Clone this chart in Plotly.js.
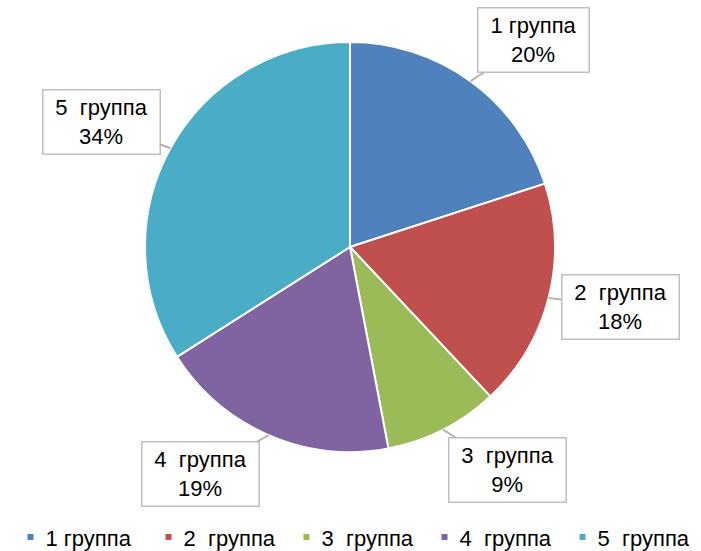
<!DOCTYPE html>
<html>
<head>
<meta charset="utf-8">
<script src="https://cdn.plot.ly/plotly-3.0.1.min.js"></script>
<style>
  html, body { margin: 0; padding: 0; background: #ffffff; }
  #chart { width: 701px; height: 551px; }
</style>
</head>
<body>
<div id="chart"></div>
<script>
// groups and their shares, percent
var groups = ["1 группа", "2\u00a0 группа", "3\u00a0 группа", "4\u00a0 группа", "5\u00a0 группа"];
var shares = [20, 18, 9, 19, 34];
var sliceColors = ["#4F81BD", "#C0504D", "#9BBB59", "#8064A2", "#4BACC6"];

var W = 701, H = 551;
var cx = 350, cy = 247, R = 205;
var FONT = "Liberation Sans, Arial, sans-serif";
// where each callout box sits (pixels)
var boxPos = [[533, 40], [620, 307], [507, 470], [200, 474], [101, 122]];

var total = shares.reduce(function (a, b) { return a + b; }, 0);
var annotations = [];
var acc = 0;
shares.forEach(function (v, i) {
    var mid = (acc + v / 2) / total * 2 * Math.PI;
    acc += v;
    var tx = cx + R * Math.sin(mid);
    var ty = cy - R * Math.cos(mid);
    annotations.push({
        xref: "paper", yref: "paper",
        x: tx / W, y: 1 - ty / H,
        ax: boxPos[i][0] - tx, ay: boxPos[i][1] - ty,
        text: groups[i] + "<br>" + Math.round(v / total * 100) + "%",
        showarrow: true, arrowhead: 0, arrowwidth: 2, arrowcolor: "#b3b3b3",
        standoff: 0,
        font: { family: FONT, size: 22, color: "#000000" },
        bgcolor: "#ffffff", bordercolor: "#bfbfbf", borderwidth: 1.5, borderpad: 3,
        width: i === 0 ? 104 : 110, height: 57, align: "center"
    });
});

var data = [{
    type: "pie",
    labels: groups,
    values: shares,
    sort: false,
    direction: "clockwise",
    rotation: 0,
    textinfo: "none",
    hoverinfo: "none",
    marker: { colors: sliceColors, line: { color: "#ffffff", width: 2 } },
    domain: { x: [(cx - R) / W, (cx + R) / W], y: [1 - (cy + R) / H, 1 - (cy - R) / H] }
}];

var layout = {
    width: W, height: H,
    margin: { l: 0, r: 0, t: 0, b: 0, autoexpand: false },
    paper_bgcolor: "#ffffff",
    showlegend: true,
    legend: {
        orientation: "h", x: 0.5, xanchor: "center", y: -0.013, yanchor: "bottom",
        font: { family: FONT, size: 22, color: "#000000" },
        itemwidth: 30, entrywidth: 93
    },
    annotations: annotations
};

Plotly.newPlot("chart", data, layout, { staticPlot: true }).then(function () {
    document.querySelectorAll(".legendpoints path").forEach(function (p) {
        var t = p.getAttribute("transform") || "";
        p.setAttribute("transform", t + " translate(5,0) scale(0.6)");
    });
});
</script>
</body>
</html>
